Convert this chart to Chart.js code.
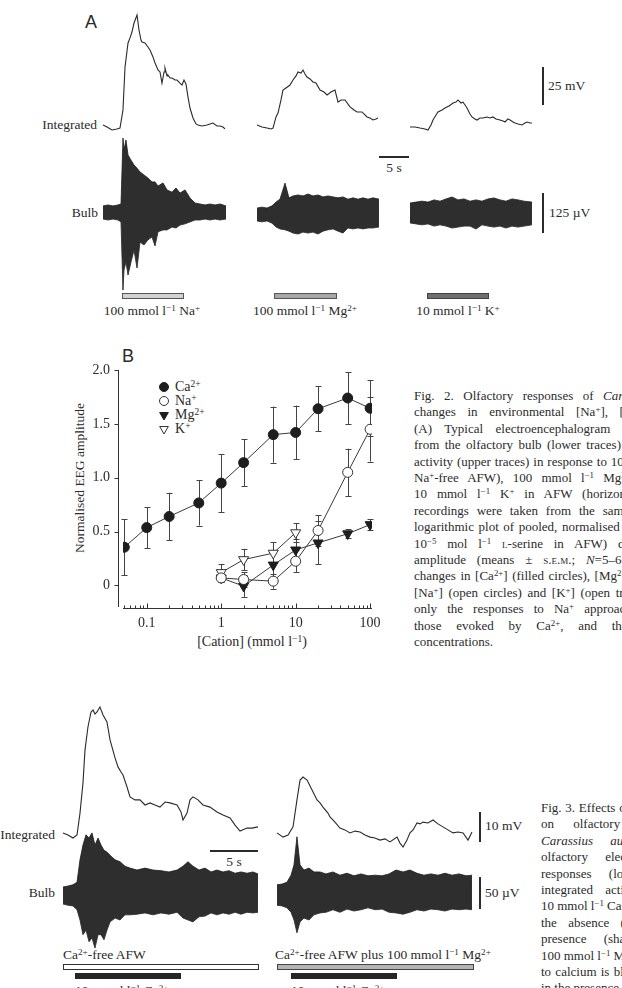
<!DOCTYPE html>
<html><head><meta charset="utf-8">
<script src="https://cdn.jsdelivr.net/npm/chart.js@4.4.1/dist/chart.umd.min.js"></script>
<style>
html,body{margin:0;padding:0;background:#fff;}
body{width:622px;height:988px;position:relative;overflow:hidden;font-family:"Liberation Serif","Times New Roman",serif;color:#2b2b2b;}
canvas{position:absolute;}
.t{position:absolute;white-space:nowrap;line-height:1;font-size:13.5px;transform:translateY(-50%);}
.t.r{transform:translate(-100%,-50%);}
.t.c{transform:translate(-50%,-50%);}
sup{font-size:68%;vertical-align:0.42em;line-height:0;}
.pl{font-family:"Liberation Sans",Arial,sans-serif;font-size:18px;}
.cap{position:absolute;font-size:13px;line-height:16.4px;}
.cap div{white-space:nowrap;text-align:justify;text-align-last:justify;width:310px;}
.cap div.last{text-align-last:left;}
.cap3{position:absolute;font-size:13px;line-height:16.4px;}
.cap3 div{white-space:nowrap;}
.sc{font-variant:small-caps;}
.sb{position:absolute;background:#2b2b2b;}
.ytitle{position:absolute;white-space:nowrap;font-size:13.5px;line-height:1;transform:translate(-50%,-50%) rotate(-90deg);}
</style></head><body>

<!-- Panel A labels -->
<div class="t pl" style="left:85px;top:22px;">A</div>
<div class="t r" style="left:97px;top:125px;">Integrated</div>
<div class="t r" style="left:98px;top:213px;">Bulb</div>
<div class="t" style="left:548px;top:86px;">25 mV</div>
<div class="t" style="left:549px;top:213px;">125 µV</div>
<div class="t c" style="left:394px;top:168px;">5 s</div>
<div class="t c" style="left:152px;top:311px;">100 mmol l<sup>−1</sup> Na<sup>+</sup></div>
<div class="t c" style="left:305px;top:311px;">100 mmol l<sup>−1</sup> Mg<sup>2+</sup></div>
<div class="t c" style="left:458px;top:311px;">10 mmol l<sup>−1</sup> K<sup>+</sup></div>
<div class="sb" style="left:542px;top:67px;width:2px;height:38px;"></div>
<div class="sb" style="left:542px;top:193px;width:2px;height:40px;"></div>
<div class="sb" style="left:379px;top:156px;width:30px;height:2px;"></div>

<!-- Panel B labels -->
<div class="t pl" style="left:122px;top:356px;">B</div>
<div class="t" style="left:175px;top:387px;font-size:14px;">Ca<sup>2+</sup></div>
<div class="t" style="left:175px;top:401px;font-size:14px;">Na<sup>+</sup></div>
<div class="t" style="left:175px;top:415px;font-size:14px;">Mg<sup>2+</sup></div>
<div class="t" style="left:175px;top:429px;font-size:14px;">K<sup>+</sup></div>
<div class="ytitle" style="left:80px;top:478px;">Normalised EEG amplitude</div>
<div class="t c" style="left:252px;top:642px;font-size:14px;">[Cation] (mmol l<sup>−1</sup>)</div>

<!-- Fig 2 caption -->
<div class="cap" style="left:414px;top:388px;">
<div>Fig. 2. Olfactory responses of <i>Carassius auratus</i> to</div>
<div>changes in environmental [Na<sup>+</sup>], [Mg<sup>2+</sup>] and [K<sup>+</sup>].</div>
<div>(A) Typical electroencephalogram (EEG) recordings</div>
<div>from the olfactory bulb (lower traces) and the integrated</div>
<div>activity (upper traces) in response to 100 mmol l<sup>−1</sup> Na<sup>+</sup> (in</div>
<div>Na<sup>+</sup>-free AFW), 100 mmol l<sup>−1</sup> Mg<sup>2+</sup> (in AFW) and</div>
<div style="width:290px;">10 mmol l<sup>−1</sup> K<sup>+</sup> in AFW (horizontal bars). All</div>
<div>recordings were taken from the same fish. (B) Semi-</div>
<div>logarithmic plot of pooled, normalised (to the response to</div>
<div>10<sup>−5</sup> mol l<sup>−1</sup> <span class="sc">l</span>-serine in AFW) data of the EEG</div>
<div>amplitude (means ± <span class="sc">s.e.m.</span>; <i>N</i>=5–6) in response to</div>
<div>changes in [Ca<sup>2+</sup>] (filled circles), [Mg<sup>2+</sup>] (filled triangles),</div>
<div>[Na<sup>+</sup>] (open circles) and [K<sup>+</sup>] (open triangles). Note that</div>
<div style="width:300px;">only the responses to Na<sup>+</sup> approach in amplitude</div>
<div style="width:320px;">those evoked by Ca<sup>2+</sup>, and then only at high</div>
<div class="last">concentrations.</div>
</div>

<!-- Fig 3 labels -->
<div class="t r" style="left:55px;top:835px;">Integrated</div>
<div class="t r" style="left:55px;top:893px;">Bulb</div>
<div class="t" style="left:485px;top:826px;">10 mV</div>
<div class="t" style="left:485px;top:893px;">50 µV</div>
<div class="t c" style="left:234px;top:862px;">5 s</div>
<div class="sb" style="left:479px;top:812px;width:2px;height:30px;"></div>
<div class="sb" style="left:479px;top:877px;width:2px;height:32px;"></div>
<div class="sb" style="left:210px;top:850px;width:48px;height:2px;"></div>
<div class="t" style="left:63px;top:955px;">Ca<sup>2+</sup>-free AFW</div>
<div class="t" style="left:275px;top:955px;">Ca<sup>2+</sup>-free AFW plus 100 mmol l<sup>−1</sup> Mg<sup>2+</sup></div>
<div class="t" style="left:75px;top:991px;">10 mmol l<sup>−1</sup> Ca<sup>2+</sup></div>
<div class="t" style="left:291px;top:991px;">10 mmol l<sup>−1</sup> Ca<sup>2+</sup></div>

<div class="cap3" style="left:541px;top:800px;">
<div style="word-spacing:0.5px;">Fig. 3. Effects of Mg<sup>2+</sup> (100 mmol l<sup>−1</sup>)</div>
<div style="word-spacing:16px;">on olfactory responses to calcium in</div>
<div style="word-spacing:14px;"><i>Carassius auratus</i>. Typical</div>
<div style="word-spacing:14px;">olfactory electroencephalogram (EEG)</div>
<div style="word-spacing:14px;">responses (lower traces) and the</div>
<div style="word-spacing:9px;">integrated activity (upper traces) in</div>
<div>10 mmol l<sup>−1</sup> Ca<sup>2+</sup> (black horizontal bars) in</div>
<div style="word-spacing:8px;">the absence (open horizontal bar) and</div>
<div style="word-spacing:14px;">presence (shaded horizontal bar) of</div>
<div>100 mmol l<sup>−1</sup> Mg<sup>2+</sup>. Note that the response</div>
<div style="word-spacing:1px;">to calcium is blunted and delayed</div>
<div>in the presence of Mg<sup>2+</sup>.</div>
</div>

<script>
// ---------- Panel B data ----------
const xTicks = [0.1, 1, 10, 100];
const yTicks = [0, 0.5, 1.0, 1.5, 2.0];
const concCa = [0.05, 0.1, 0.2, 0.5, 1, 2, 5, 10, 20, 50, 100];
const caMean = [0.355, 0.537, 0.64, 0.766, 0.95, 1.14, 1.40, 1.42, 1.64, 1.74, 1.645];
const caSem  = [0.26, 0.19, 0.22, 0.21, 0.27, 0.22, 0.26, 0.25, 0.21, 0.24, 0.26];
const concNaMg = [1, 2, 5, 10, 20, 50, 100];
const naMean = [0.07, 0.055, 0.04, 0.225, 0.51, 1.05, 1.45];
const naSem  = [0.04, 0.07, 0.07, 0.10, 0.14, 0.22, 0.30];
const mgMean = [0.07, -0.006, 0.19, 0.33, 0.395, 0.48, 0.565];
const mgSem  = [0.04, 0.10, 0.12, 0.10, 0.20, 0.04, 0.05];
const concK = [1, 2, 5, 10];
const kMean = [0.12, 0.24, 0.30, 0.49];
const kSem  = [0.08, 0.10, 0.10, 0.09];

// ---------- Trace data (time s, integrated mV / bulb envelope µV) ----------
const intNa = [[0,1.3],[0.67,0],[1.5,-2],[2.33,-1.3],[2.83,-0.7],[3.33,11.2],[3.67,39.5],[4.17,55.3],[4.5,58.6],[4.83,62.5],[5.17,68.4],[5.67,73.7],[6.0,63.8],[6.33,57.2],[6.5,55.9],[7.0,55.3],[7.5,52.6],[7.83,50.7],[8.33,46.1],[8.67,42.1],[9.17,37.5],[9.5,36.2],[9.83,28.9],[10.17,36.2],[10.33,38.8],[10.67,33.6],[10.83,34.2],[11.17,32.2],[11.5,32.2],[12.0,30.9],[12.33,30.9],[12.83,28.9],[13.17,27.6],[13.5,30.9],[13.83,28.3],[14.17,19.7],[14.5,12.5],[15.0,5.9],[15.5,2.0],[15.83,1.3],[16.5,0.7],[17.33,1.3],[17.83,2.0],[18.33,2.6],[19.0,0.7],[19.5,0.7],[20.0,0],[20.33,-1.3]];
const intMg = [[0,1.3],[0.83,0],[1.67,-0.7],[2.33,-1.3],[2.67,-0.7],[3.17,6.6],[3.5,9.2],[4.0,17.8],[4.33,24.3],[4.83,25.7],[5.5,27.6],[6.0,30.9],[6.5,33.6],[6.83,36.2],[7.33,35.5],[7.67,37.5],[8.0,34.9],[8.33,32.9],[8.83,31.6],[9.33,29.6],[9.83,28.9],[10.5,24.3],[11.17,23.0],[11.67,21.1],[12.33,23.0],[13.0,24.3],[13.5,16.4],[14.0,17.8],[14.67,17.8],[15.5,13.2],[16.17,11.2],[16.67,9.9],[17.5,9.9],[18.33,6.6],[18.83,5.9],[19.33,4.6],[19.83,5.3],[20.17,5.9]];
const intK = [[0,0],[0.83,0],[1.67,-0.7],[2.5,-1.3],[3.0,-2.0],[3.5,1.3],[3.83,4.6],[4.33,7.9],[4.67,9.9],[5.33,11.2],[5.83,12.5],[6.5,13.8],[7.17,15.8],[7.67,16.4],[8.0,17.8],[8.5,15.8],[8.83,16.4],[9.17,14.5],[9.5,12.5],[10.0,8.6],[10.33,6.6],[10.83,5.3],[11.17,4.6],[11.67,5.9],[12.17,5.9],[12.83,6.6],[13.33,5.9],[13.83,6.6],[14.33,5.3],[15.0,4.6],[15.5,3.9],[15.83,3.3],[16.33,5.3],[16.67,4.6],[17.17,3.3],[17.5,2.6],[18.0,2.0],[18.67,1.3],[19.17,2.6],[19.5,3.3],[20.0,2.6],[20.33,2.6]];
const bulbNa = [[0,19,-22],[0.83,22,-25],[1.67,19,-22],[2.5,22,-25],[3.0,25,-31],[3.33,231,-244],[3.5,194,-181],[3.83,225,-156],[4.17,178,-197],[4.67,162,-156],[5.17,147,-119],[5.67,137,-175],[6.17,125,-94],[6.83,116,-103],[7.5,106,-87],[8.17,94,-78],[8.67,94,-106],[9.17,81,-62],[10.0,91,-56],[10.67,69,-56],[11.5,62,-47],[12.17,75,-50],[12.83,59,-41],[13.67,69,-37],[14.5,44,-31],[15.33,28,-25],[16.17,25,-25],[17.0,22,-22],[17.83,25,-25],[18.67,22,-22],[19.5,25,-25],[20.5,19,-22]];
const bulbMg = [[0,20,-20],[0.83,23,-23],[1.67,20,-20],[2.5,27,-27],[3.17,39,-39],[3.83,48,-45],[4.67,98,-48],[5.33,52,-52],[6.0,58,-58],[6.83,61,-61],[7.67,58,-55],[8.5,64,-58],[9.33,58,-55],[10.17,61,-61],[11.0,55,-52],[11.83,58,-48],[12.67,55,-45],[13.5,52,-52],[14.33,55,-58],[15.17,48,-42],[16.0,52,-45],[16.83,48,-42],[17.67,52,-45],[18.5,48,-42],[19.33,52,-42],[20.33,48,-39]];
const bulbK = [[0,31,-31],[1.0,34,-34],[2.0,37,-37],[3.0,34,-34],[4.0,41,-41],[5.0,37,-37],[6.0,44,-41],[7.0,50,-47],[8.0,41,-44],[9.0,44,-41],[10.0,37,-41],[11.0,41,-50],[12.0,37,-37],[13.0,44,-41],[14.0,47,-44],[15.0,41,-41],[16.0,37,-47],[17.0,44,-41],[18.0,41,-44],[19.0,37,-41],[20.33,34,-37]];
const stimNa = [3.17, 13.33];
const stimMg = [2.83, 13.17];
const stimK  = [2.83, 13.0];

const intCa0 = [[0,0.7],[0.52,0],[1.04,-1.0],[1.46,0],[1.77,7.3],[2.08,17.3],[2.29,28.3],[2.6,36.0],[2.92,41.0],[3.13,41.7],[3.33,40.3],[3.54,41.0],[3.85,42.7],[4.17,40.0],[4.58,37.7],[4.9,31.7],[5.42,25.7],[5.73,22.7],[6.04,21.0],[6.25,20.0],[6.67,16.0],[6.98,12.7],[7.5,11.7],[8.02,11.7],[8.54,10.0],[9.06,10.7],[9.58,10.0],[10.1,9.3],[10.63,11.0],[11.15,10.7],[11.88,10.0],[12.29,7.7],[12.5,5.0],[12.92,7.3],[13.23,11.7],[13.54,12.7],[14.06,11.7],[14.58,10.0],[15.31,9.3],[16.04,7.7],[16.67,6.7],[17.4,5.7],[17.92,3.3],[18.44,1.3],[19.17,2.3],[19.69,2.3],[20.31,2.7]];
const intCaMg = [[0,0.7],[0.63,-0.7],[1.15,0],[1.67,2.7],[2.08,11.7],[2.4,18.3],[2.71,19.3],[3.13,18.3],[3.65,15.0],[4.17,11.7],[4.48,10.7],[4.79,9.3],[5.31,7.3],[5.52,6.0],[6.04,4.3],[6.56,2.3],[7.08,1.7],[7.6,0.7],[8.13,1.3],[8.65,1.0],[9.17,0],[9.69,-0.7],[10.2,-1.0],[10.73,-1.7],[11.25,-1.3],[11.77,-2.3],[12.5,-0.7],[12.81,-2.7],[13.13,-4.0],[13.54,-1.7],[13.85,0.7],[14.17,1.7],[14.58,4.0],[14.9,3.7],[15.21,4.3],[15.73,4.0],[16.25,5.0],[16.77,3.7],[17.29,2.7],[17.81,1.7],[18.33,0.7],[18.85,1.0],[19.38,0.7],[19.9,-1.7],[20.31,1.0]];
const bulbCa0 = [[0,12.5,-14],[0.52,14,-16],[1.04,16,-17],[1.46,20,-23],[1.77,55,-39],[2.08,78,-62],[2.4,94,-55],[2.71,89,-73],[3.02,97,-67],[3.33,78,-83],[3.65,89,-62],[3.96,78,-62],[4.27,70,-70],[4.58,67,-55],[4.9,62,-42],[5.42,55,-36],[5.94,52,-39],[6.46,45,-31],[6.98,42,-31],[7.71,39,-30],[8.54,42,-28],[9.38,39,-31],[10.21,38,-28],[11.04,36,-30],[11.88,39,-27],[12.5,45,-36],[13.02,52,-39],[13.54,45,-42],[14.17,39,-34],[14.79,42,-33],[15.42,36,-28],[16.04,39,-31],[16.67,36,-28],[17.29,38,-30],[17.92,34,-27],[18.54,36,-30],[19.17,34,-27],[19.79,36,-28],[20.31,33,-27]];
const bulbCaMg = [[0,16,-16],[0.52,17,-17],[1.04,20,-20],[1.46,31,-27],[1.77,47,-39],[2.08,91,-59],[2.4,47,-42],[2.81,39,-36],[3.33,42,-39],[3.85,36,-31],[4.48,36,-28],[5.1,33,-27],[5.83,36,-23],[6.56,31,-27],[7.29,34,-22],[8.02,30,-25],[8.75,33,-23],[9.48,30,-20],[10.21,31,-23],[10.94,30,-22],[11.67,33,-27],[12.4,39,-28],[13.13,36,-30],[13.85,39,-27],[14.58,34,-23],[15.31,31,-25],[16.04,33,-22],[16.77,31,-23],[17.5,34,-25],[18.23,31,-22],[18.96,33,-23],[19.69,30,-22],[20.31,31,-23]];
const condCa0 = [0, 20.3];
const condMg = [0, 20.4];
const stimCa0 = [1.25, 12.2];
const stimCaMg = [1.46, 12.4];

Chart.defaults.font.family = '"Liberation Serif","Times New Roman",serif';
Chart.defaults.color = '#2b2b2b';

// ---------- stimulus bars plugin ----------
const stimPlugin = {
  id: 'stimBars',
  afterDraw(chart, args, opts) {
    const {ctx, scales: {x}} = chart;
    (opts.bars || []).forEach(b => {
      const x0 = Math.round(x.getPixelForValue(b.t[0])) + 0.5;
      const x1 = Math.round(x.getPixelForValue(b.t[1])) + 0.5;
      ctx.save();
      ctx.fillStyle = b.fill;
      ctx.fillRect(x0, b.y, x1 - x0, b.h);
      ctx.strokeStyle = b.stroke; ctx.lineWidth = 1;
      ctx.strokeRect(x0, b.y + 0.5, x1 - x0, b.h - 1);
      ctx.restore();
    });
  }
};

function recording(cfg) {
  const c = document.createElement('canvas');
  c.width = cfg.w; c.height = cfg.h;
  c.style.left = cfg.left + 'px'; c.style.top = cfg.top + 'px';
  document.body.appendChild(c);
  const ink = '#1c1c1c', body = '#2e2e2e';
  const ds = [
    {data: cfg.int.map(p => ({x: p[0], y: p[1]})), yAxisID: 'yi', borderColor: '#2a2a2a', borderWidth: 1.1, pointRadius: 0, fill: false},
    {data: cfg.bulb.map(p => ({x: p[0], y: p[1]})), yAxisID: 'yb', borderColor: ink, borderWidth: 0.8, pointRadius: 0, fill: '+1', backgroundColor: body},
    {data: cfg.bulb.map(p => ({x: p[0], y: p[2]})), yAxisID: 'yb', borderColor: ink, borderWidth: 0.8, pointRadius: 0, fill: false}
  ];
  new Chart(c, {
    type: 'line',
    data: {datasets: ds},
    options: {
      animation: false, responsive: false, devicePixelRatio: 1, events: [],
      layout: {padding: 0},
      plugins: {legend: {display: false}, tooltip: {enabled: false}, stimBars: {bars: cfg.bars}},
      scales: {
        x: {type: 'linear', display: false, min: -cfg.pad / cfg.pxs, max: (cfg.w - cfg.pad) / cfg.pxs},
        yi: {type: 'linear', display: false, min: -(cfg.h - cfg.intBase) / cfg.pxi, max: cfg.intBase / cfg.pxi},
        yb: {type: 'linear', display: false, min: -(cfg.h - cfg.bulbBase) / cfg.pxb, max: cfg.bulbBase / cfg.pxb}
      }
    },
    plugins: [stimPlugin]
  });
}

// Panel A recordings: 6 px/s, 38 px per 25 mV, 40 px per 125 µV
const A = {top: 0, h: 302, w: 130, pad: 2, pxs: 6, pxi: 38 / 25, pxb: 40 / 125};
recording({...A, left: 101, int: intNa, bulb: bulbNa, intBase: 127, bulbBase: 212,
  bars: [{t: stimNa, y: 293, h: 6, fill: '#d2d2d2', stroke: '#555'}]});
recording({...A, left: 255, int: intMg, bulb: bulbMg, intBase: 127, bulbBase: 214.5,
  bars: [{t: stimMg, y: 293, h: 6, fill: '#a8a8a8', stroke: '#555'}]});
recording({...A, left: 408, int: intK, bulb: bulbK, intBase: 127, bulbBase: 213,
  bars: [{t: stimK, y: 293, h: 6, fill: '#6f6f6f', stroke: '#444'}]});

// Fig 3 recordings: 9.6 px/s, 3 px/mV, 0.64 px/µV
const F = {top: 690, h: 298, w: 205, pad: 2, pxs: 9.6, pxi: 3, pxb: 0.64};
recording({...F, left: 61, int: intCa0, bulb: bulbCa0, intBase: 145, bulbBase: 205,
  bars: [{t: condCa0, y: 274, h: 6, fill: '#ffffff', stroke: '#333'},
         {t: stimCa0, y: 283, h: 6, fill: '#262626', stroke: '#262626'}]});
recording({...F, left: 275, int: intCaMg, bulb: bulbCaMg, intBase: 145, bulbBase: 205,
  bars: [{t: condMg, y: 274, h: 6, fill: '#b4b4b4', stroke: '#444'},
         {t: stimCaMg, y: 283, h: 6, fill: '#262626', stroke: '#262626'}]});

// ---------- Panel B chart ----------
const errPlugin = {
  id: 'errBars',
  beforeDatasetsDraw(chart) {
    const {ctx, scales: {x, y}} = chart;
    ctx.save();
    ctx.strokeStyle = '#444'; ctx.lineWidth = 1;
    chart.data.datasets.forEach(ds => {
      ds.data.forEach((p, i) => {
        const e = ds.sem[i];
        const px = Math.round(x.getPixelForValue(p.x)) + 0.5;
        const y0 = y.getPixelForValue(p.y - e), y1 = y.getPixelForValue(p.y + e);
        ctx.beginPath();
        ctx.moveTo(px, y0); ctx.lineTo(px, y1);
        ctx.moveTo(px - 3, Math.round(y0) + 0.5); ctx.lineTo(px + 3, Math.round(y0) + 0.5);
        ctx.moveTo(px - 3, Math.round(y1) + 0.5); ctx.lineTo(px + 3, Math.round(y1) + 0.5);
        ctx.stroke();
      });
    });
    ctx.restore();
  },
  afterDraw(chart) {
    const {ctx, chartArea: a, scales: {x, y}} = chart;
    ctx.save();
    ctx.strokeStyle = '#333'; ctx.lineWidth = 1;
    const yx = a.left - 4.5;
    ctx.beginPath();
    ctx.moveTo(yx, Math.round(y.getPixelForValue(yTicks[yTicks.length - 1]))); ctx.lineTo(yx, a.bottom);
    yTicks.forEach(v => { const p = Math.round(y.getPixelForValue(v)) + 0.5; ctx.moveTo(yx - 4, p); ctx.lineTo(yx, p); });
    const xy = a.bottom + 1.5;
    ctx.moveTo(a.left, xy); ctx.lineTo(a.right, xy);
    [0.01, 0.1, 1, 10, 100].forEach(d => {
      for (let m = 1; m <= 9; m++) {
        const v = d * m;
        if (v < x.min || v > x.max) continue;
        const p = Math.round(x.getPixelForValue(v)) + 0.5;
        const len = m === 1 ? 5 : 3;
        ctx.moveTo(p, xy); ctx.lineTo(p, xy - len);
      }
    });
    ctx.stroke();
    // legend markers
    chart.data.datasets.forEach((ds, i) => {
      ctx.fillStyle = ds.pointBackgroundColor; ctx.strokeStyle = ds.pointBorderColor; ctx.lineWidth = 1;
      Chart.helpers.drawPoint(ctx, {pointStyle: ds.pointStyle, rotation: ds.pointRotation || 0, radius: ds.legendRadius, borderWidth: 1}, 164, 47 + i * 14);
    });
    ctx.restore();
  }
};

function series(conc, mean, sem, style) {
  return Object.assign({
    data: conc.map((c, i) => ({x: c, y: mean[i]})),
    sem: sem,
    borderColor: '#3a3a3a', borderWidth: 1, fill: false, tension: 0,
    pointBorderWidth: 1
  }, style);
}

const cB = document.createElement('canvas');
cB.width = 400; cB.height = 320;
cB.style.left = '0px'; cB.style.top = '340px';
document.body.appendChild(cB);

new Chart(cB, {
  type: 'line',
  data: {datasets: [
    series(concCa, caMean, caSem, {pointStyle: 'circle', pointRadius: 5, legendRadius: 4.5, pointBackgroundColor: '#1e1e1e', pointBorderColor: '#1e1e1e'}),
    series(concNaMg, naMean, naSem, {pointStyle: 'circle', pointRadius: 5, legendRadius: 4.5, pointBackgroundColor: '#ffffff', pointBorderColor: '#333'}),
    series(concNaMg, mgMean, mgSem, {pointStyle: 'triangle', pointRotation: 180, pointRadius: 5.8, legendRadius: 5, pointBackgroundColor: '#1e1e1e', pointBorderColor: '#1e1e1e'}),
    series(concK, kMean, kSem, {pointStyle: 'triangle', pointRotation: 180, pointRadius: 5.8, legendRadius: 5, pointBackgroundColor: '#ffffff', pointBorderColor: '#333'})
  ]},
  options: {
    animation: false, responsive: false, devicePixelRatio: 1, events: [],
    layout: {padding: {top: 30, right: 28, left: 0, bottom: 0}},
    plugins: {legend: {display: false}, tooltip: {enabled: false}},
    scales: {
      x: {
        type: 'logarithmic', min: 0.048, max: 106,
        grid: {display: false, drawTicks: false}, border: {display: false},
        afterBuildTicks: s => { s.ticks = xTicks.map(v => ({value: v})); },
        afterFit: s => { s.height = 53; },
        ticks: {padding: 8, autoSkip: false, maxRotation: 0, font: {size: 14}, color: '#2b2b2b', callback: v => String(v)}
      },
      y: {
        type: 'linear', min: -0.2, max: 2.0,
        grid: {display: false, drawTicks: false}, border: {display: false},
        afterBuildTicks: s => { s.ticks = yTicks.map(v => ({value: v})); },
        afterFit: s => { s.width = 123; },
        ticks: {padding: 13, font: {size: 14}, color: '#2b2b2b', callback: v => v === 0 ? '0' : v.toFixed(1)}
      }
    }
  },
  plugins: [errPlugin]
});
</script>
</body></html>
